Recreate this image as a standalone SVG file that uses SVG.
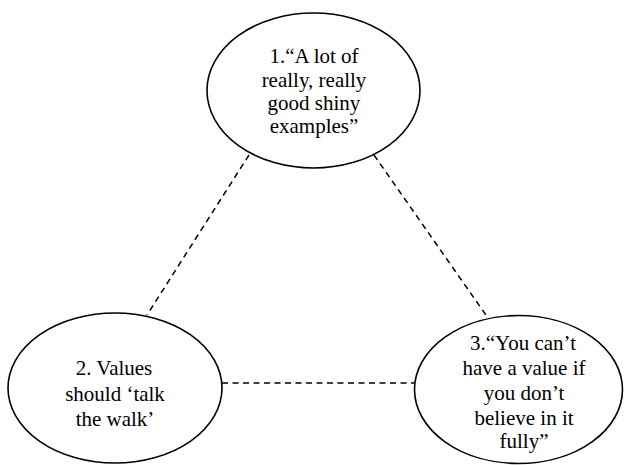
<svg xmlns="http://www.w3.org/2000/svg" width="624" height="465" viewBox="0 0 624 465">
<style>
.node ellipse{fill:#fff;stroke:#000;stroke-width:1.6}
.node text{font-family:"Liberation Serif","Times New Roman","DejaVu Serif",serif;font-size:21px;fill:#000;text-anchor:middle}
.conn line{stroke:#000;stroke-width:1.5;stroke-dasharray:6 4.5}
</style>
<rect width="624" height="465" fill="#fff"/>
<g id="connectors" class="conn">
<line x1="249" y1="155" x2="147" y2="315"/>
<line x1="374" y1="155" x2="488" y2="318"/>
<line x1="222" y1="383" x2="417" y2="383"/>
</g>
<g id="node1" class="node">
<ellipse cx="313.5" cy="90.5" rx="106.5" ry="77.5"/>
<text x="314" y="63">1.“A lot of</text>
<text x="314" y="87">really, really</text>
<text x="314" y="110">good shiny</text>
<text x="314" y="133">examples”</text>
</g>
<g id="node2" class="node">
<ellipse cx="115" cy="388" rx="107" ry="75"/>
<text x="114" y="375">2. Values</text>
<text x="115" y="401">should ‘talk</text>
<text x="115" y="426">the walk’</text>
</g>
<g id="node3" class="node">
<ellipse cx="518.5" cy="389.5" rx="104" ry="74"/>
<text x="523" y="350">3.“You can’t</text>
<text x="524" y="375">have a value if</text>
<text x="524" y="400">you don’t</text>
<text x="524" y="425">believe in it</text>
<text x="524" y="448">fully”</text>
</g>
</svg>
